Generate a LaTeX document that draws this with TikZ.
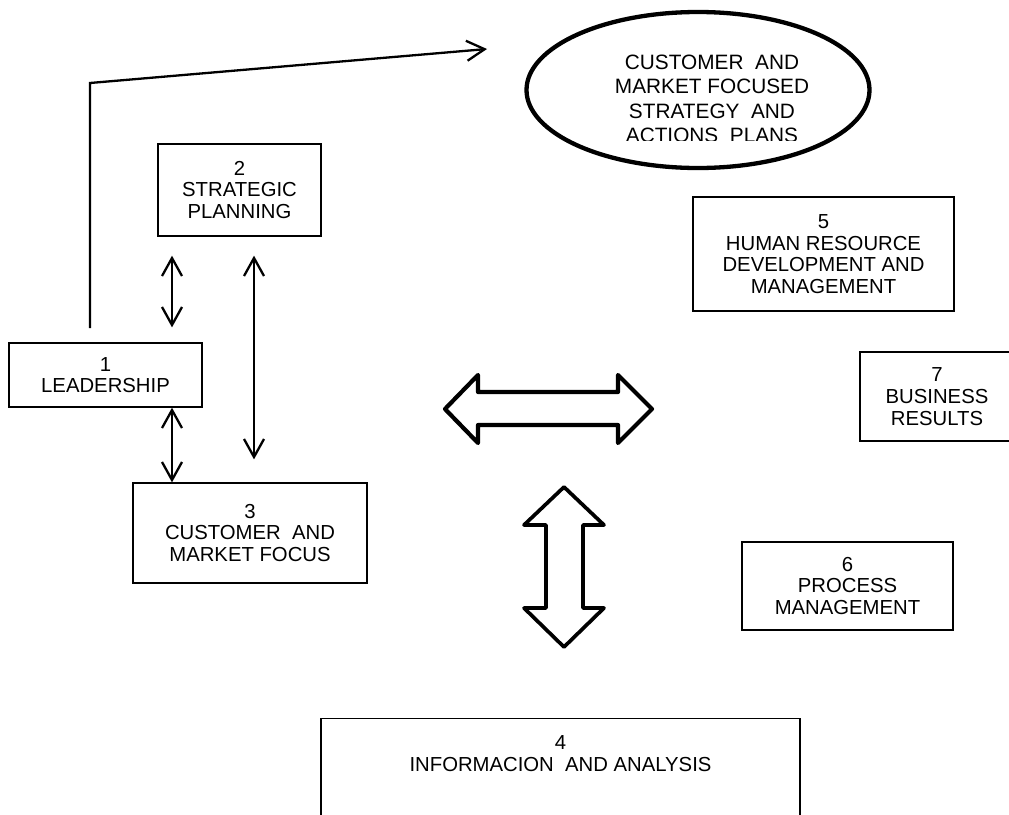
\documentclass[tikz,border=0pt]{standalone}
\usepackage{fontspec}
\setmainfont{Liberation Sans}
\usetikzlibrary{arrows.meta, shapes.geometric}
\tikzset{box/.style = {draw, line width=1.3pt, align=center, inner sep=0pt},
         oval/.style = {draw, ellipse, line width=4.3pt, inner sep=0pt},
         larrow/.style = {-{Straight Barb[length=18pt,width=20pt]}, line width=2.3pt},
         dlarrow/.style = {{Straight Barb[length=18pt,width=20pt]}-{Straight Barb[length=18pt,width=20pt]}, line width=2.3pt},
         blockarrow/.style = {line width=4.2pt, line join=round}}

\begin{document}
\begin{tikzpicture}[x=1pt, y=-1pt, font=\fontsize{20.3}{21.7}\selectfont]
    \useasboundingbox (0,0) rectangle (1009,814);

    \node[oval, minimum width=343pt, minimum height=156pt] (plan) at (698,90) {};
    \begin{scope}
        \clip (500,0) rectangle (900,140);
        \node[align=center, font=\fontsize{20.8}{24.5}\selectfont] (plantext) at (712,99)
            {CUSTOMER\ \ AND\\MARKET FOCUSED\\STRATEGY\ \ AND\\ACTIONS\ \ PLANS};
    \end{scope}

    \node[box, minimum width=193pt, minimum height=64pt] (1) at (105.5,375) {1\\LEADERSHIP};
    \node[box, minimum width=163pt, minimum height=92pt] (2) at (239.5,190) {2\\STRATEGIC\\PLANNING};
    \node[box, minimum width=234pt, minimum height=100pt] (3) at (250,533) {3\\CUSTOMER\ \ AND\\MARKET FOCUS};
    \node[box, minimum width=479pt, inner ysep=17pt, anchor=north] (4) at (560.5,718)
        {4\\INFORMACION\ \ AND ANALYSIS\\~\\~};
    \node[box, minimum width=261pt, minimum height=114pt] (5) at (823.5,254)
        {5\\HUMAN RESOURCE\\DEVELOPMENT AND\\MANAGEMENT};
    \node[box, minimum width=211pt, minimum height=88pt] (6) at (847.5,586) {6\\PROCESS\\MANAGEMENT};
    \node[box, minimum width=154pt, minimum height=89pt] (7) at (937,396.5) {7\\BUSINESS\\RESULTS};

    \coordinate (lx) at (172,0);
    \coordinate (sx) at (254,0);
    \coordinate (start) at (90,328);
    \coordinate (bend) at (90,83);
    \coordinate (tip) at (487,49);

    \draw[larrow] (start) -- (bend) -- (tip);
    \draw[dlarrow, shorten <=19pt, shorten >=15pt] (2.south -| lx) -- (1.north -| lx);
    \draw[dlarrow] (1.south -| lx) -- (3.north -| lx);
    \draw[dlarrow, shorten <=19pt, shorten >=23pt] (2.south -| sx) -- (3.north -| sx);

    % block arrows
    \draw[blockarrow] (445,409) -- (478,375) -- (478,392) -- (618,392) -- (618,375) -- (652,409)
        -- (618,443) -- (618,425) -- (478,425) -- (478,443) -- cycle;
    \draw[blockarrow, line width=3.7pt] (564,487) -- (604,525) -- (583,525) -- (583,608) -- (604,608)
        -- (564,647) -- (524,608) -- (546,608) -- (546,525) -- (524,525) -- cycle;
\end{tikzpicture}
\end{document}
